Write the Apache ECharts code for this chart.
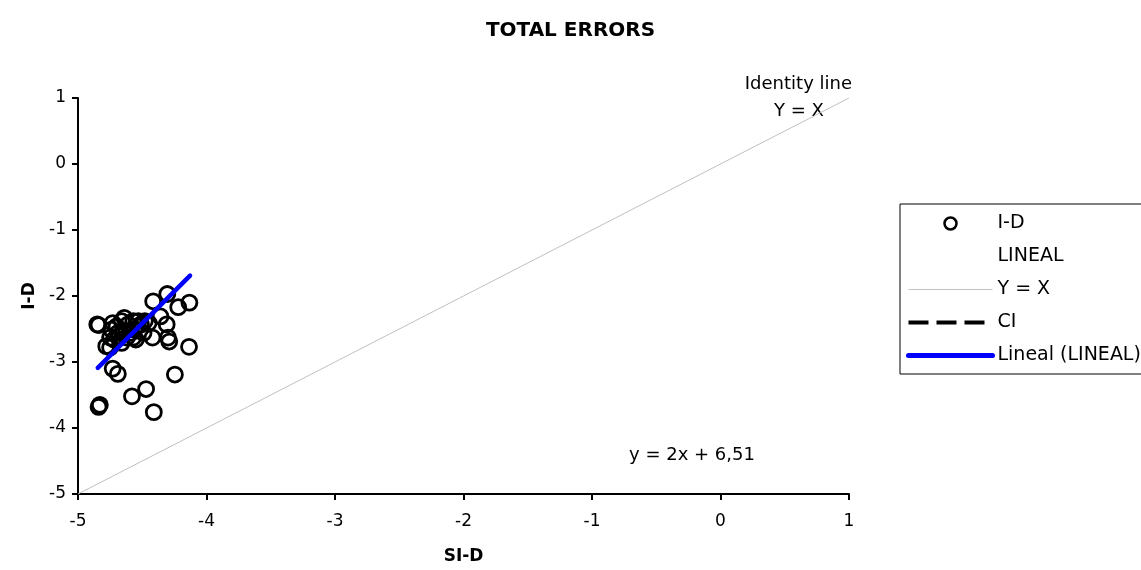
<!DOCTYPE html>
<html>
<head>
<meta charset="utf-8">
<script src="https://cdn.jsdelivr.net/npm/echarts@6/dist/echarts.min.js"></script>
<style>html,body{margin:0;padding:0;background:#fff}#c{width:1141px;height:570px}</style>
</head>
<body>
<div id="c"></div>
<script>
var xTicks = [-5, -4, -3, -2, -1, 0, 1];
var yTicks = [-5, -4, -3, -2, -1, 0, 1];
var idX = [-4.85, -4.84, -4.415, -4.305, -4.133, -4.22, -4.358, -4.31, -4.42, -4.30, -4.29, -4.136, -4.246, -4.47, -4.58, -4.41, -4.83, -4.84, -4.73, -4.69,
  -4.73, -4.70, -4.66, -4.64, -4.61, -4.57, -4.56, -4.53, -4.51, -4.48, -4.45, -4.74, -4.75, -4.72, -4.78, -4.75, -4.68, -4.62, -4.57, -4.55, -4.65, -4.69, -4.49, -4.59, -4.66];
var idY = [-2.43, -2.44, -2.08, -1.97, -2.10, -2.17, -2.31, -2.43, -2.63, -2.63, -2.69, -2.77, -3.19, -3.41, -3.52, -3.76, -3.65, -3.68, -3.10, -3.18,
  -2.41, -2.46, -2.38, -2.33, -2.43, -2.38, -2.51, -2.38, -2.43, -2.38, -2.41, -2.51, -2.63, -2.66, -2.76, -2.78, -2.61, -2.63, -2.63, -2.66, -2.53, -2.56, -2.56, -2.56, -2.71];
var identityX = [-5, 1];
var identityY = [-5, 1];
var linealX = [-4.846, -4.128];
var linealY = [-3.09, -1.69];

function zip(a, b) { return a.map(function (v, i) { return [v, b[i]]; }); }

var chart = echarts.init(document.getElementById('c'));
var font = '"DejaVu Sans", sans-serif';
chart.setOption({
  animation: false,
  backgroundColor: '#fff',
  title: {
    text: 'TOTAL ERRORS', left: 'center', top: 16,
    textStyle: { fontFamily: font, fontSize: 20, fontWeight: 'bold', color: '#000' }
  },
  grid: { left: 78, right: 292, top: 98, bottom: 73 },
  xAxis: {
    type: 'value', min: -5, max: 1, interval: 1,
    name: 'SI-D', nameLocation: 'middle', nameGap: 54,
    nameTextStyle: { fontFamily: font, fontSize: 17, fontWeight: 'bold', color: '#000' },
    axisLine: { onZero: false, lineStyle: { color: '#000', width: 2 } },
    axisTick: { inside: false, length: 6, lineStyle: { color: '#000', width: 2 } },
    axisLabel: { fontFamily: font, fontSize: 17, color: '#000', margin: 19 },
    splitLine: { show: false }
  },
  yAxis: {
    type: 'value', min: -5, max: 1, interval: 1,
    name: 'I-D', nameLocation: 'middle', nameGap: 29, nameRotate: 90,
    nameTextStyle: { fontFamily: font, fontSize: 17, fontWeight: 'bold', color: '#000' },
    axisLine: { onZero: false, lineStyle: { color: '#000', width: 2 } },
    axisTick: { inside: false, length: 6, lineStyle: { color: '#000', width: 2 } },
    axisLabel: { fontFamily: font, fontSize: 17, color: '#000', margin: 12 },
    splitLine: { show: false }
  },
  legend: {
    orient: 'vertical', left: 900, top: 204,
    itemWidth: 84, itemHeight: 12, itemGap: 14,
    padding: [10, 40, 9, 6],
    borderColor: '#000', borderWidth: 1,
    textStyle: { fontFamily: font, fontSize: 19, color: '#000' },
    data: [
      { name: 'I-D', icon: 'circle', itemStyle: { color: '#fff', borderColor: '#000', borderWidth: 2.5 } },
      { name: 'LINEAL', icon: 'none' },
      { name: 'Y = X', itemStyle: { opacity: 0 }, lineStyle: { width: 1, color: '#c0c0c0' } },
      { name: 'CI', itemStyle: { opacity: 0 }, lineStyle: { width: 4, color: '#000', type: [20, 8] } },
      { name: 'Lineal (LINEAL)', itemStyle: { opacity: 0 }, lineStyle: { width: 5, color: '#0000ff', cap: 'round' } }
    ]
  },
  series: [
    {
      name: 'I-D', type: 'scatter', symbol: 'circle', symbolSize: 15,
      itemStyle: { color: 'rgba(255,255,255,0)', borderColor: '#000', borderWidth: 2.8, opacity: 1 },
      data: zip(idX, idY), z: 3
    },
    { name: 'LINEAL', type: 'scatter', data: [], symbolSize: 0, itemStyle: { opacity: 0 } },
    {
      name: 'Y = X', type: 'line', symbol: 'none',
      lineStyle: { color: '#c0c0c0', width: 1 }, itemStyle: { color: '#c0c0c0' },
      data: zip(identityX, identityY), z: 1
    },
    {
      name: 'CI', type: 'line', symbol: 'none',
      lineStyle: { color: '#000', width: 4, type: [20, 8] }, itemStyle: { color: '#000' },
      data: []
    },
    {
      name: 'Lineal (LINEAL)', type: 'line', symbol: 'none',
      lineStyle: { color: '#0000ff', width: 4.5, cap: 'round' }, itemStyle: { color: '#0000ff' },
      data: zip(linealX, linealY), z: 4
    }
  ],
  graphic: [
    { type: 'text', x: 852, y: 84, style: { text: 'Identity line', font: '18px ' + font, fill: '#000', textAlign: 'right', textVerticalAlign: 'middle' } },
    { type: 'text', x: 799, y: 111, style: { text: 'Y = X', font: '18px ' + font, fill: '#000', textAlign: 'center', textVerticalAlign: 'middle' } },
    { type: 'text', x: 692, y: 455, style: { text: 'y = 2x + 6,51', font: '18px ' + font, fill: '#000', textAlign: 'center', textVerticalAlign: 'middle' } }
  ]
});
</script>
</body>
</html>
